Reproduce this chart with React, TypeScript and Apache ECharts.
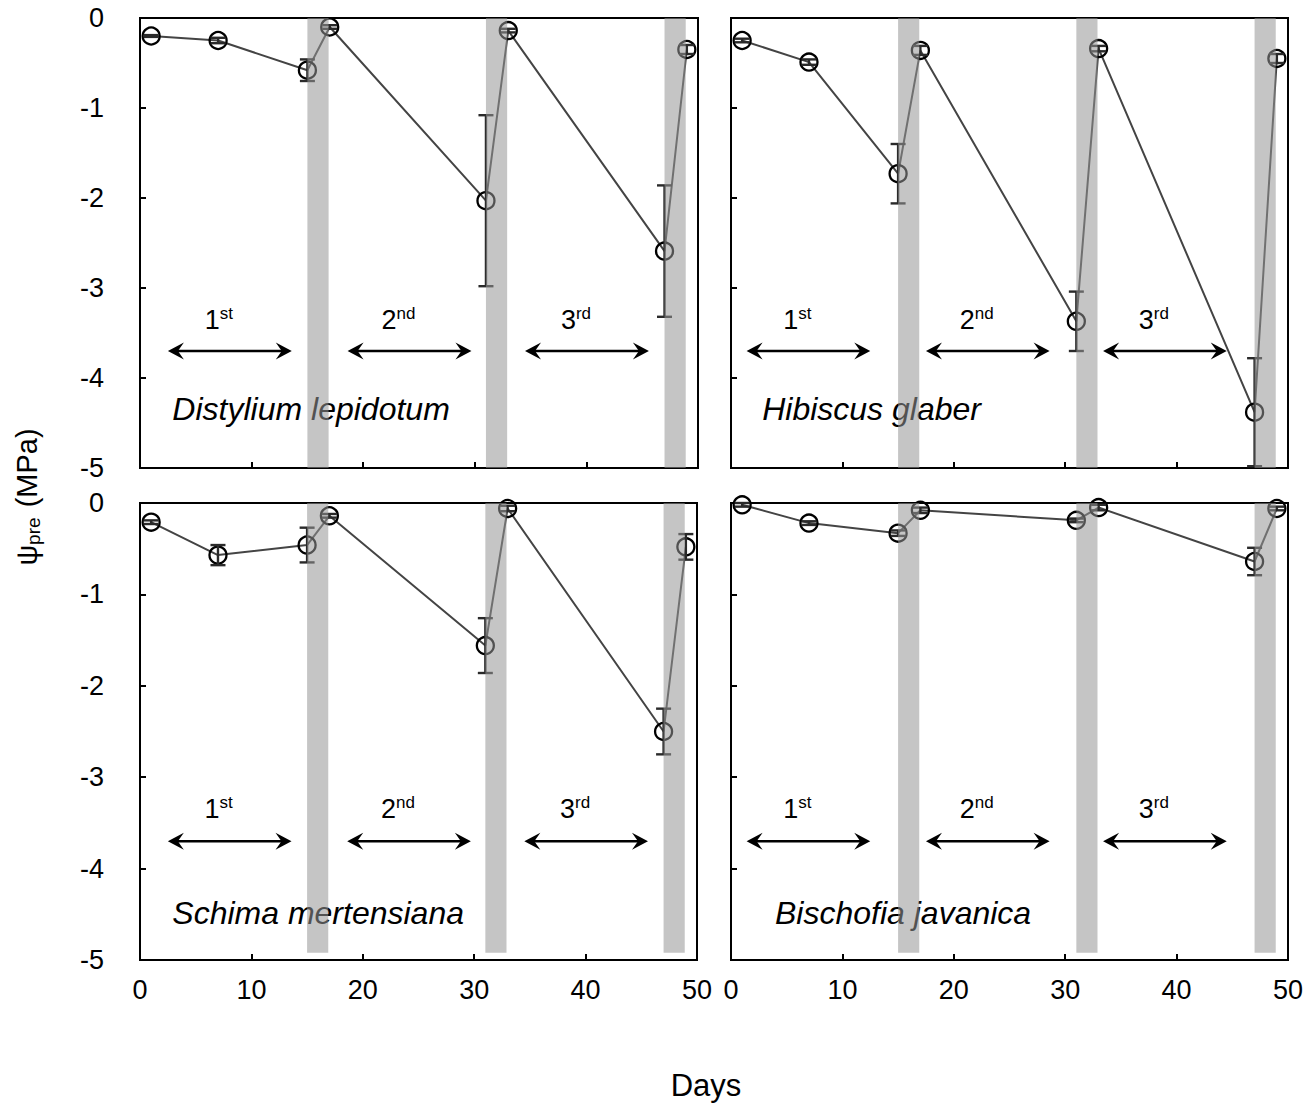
import React, { useEffect, useRef } from "react";
import * as echarts from "echarts";

const days = [1, 7, 15, 17, 31, 33, 47, 49];
const speciesNames = ["Distylium lepidotum", "Hibiscus glaber", "Schima mertensiana", "Bischofia javanica"];

const distyliumMean = [-0.2, -0.25, -0.58, -0.1, -2.03, -0.14, -2.59, -0.35];
const distyliumSE = [0.01, 0.03, 0.12, 0.02, 0.95, 0.02, 0.73, 0.05];
const hibiscusMean = [-0.25, -0.49, -1.73, -0.36, -3.37, -0.34, -4.38, -0.45];
const hibiscusSE = [0.02, 0.03, 0.33, 0.05, 0.33, 0.03, 0.6, 0.05];
const schimaMean = [-0.21, -0.57, -0.46, -0.14, -1.56, -0.06, -2.5, -0.48];
const schimaSE = [0.02, 0.11, 0.19, 0.02, 0.3, 0.03, 0.25, 0.14];
const bischofiaMean = [-0.02, -0.22, -0.33, -0.08, -0.19, -0.05, -0.64, -0.06];
const bischofiaSE = [0.02, 0.02, 0.03, 0.03, 0.02, 0.03, 0.15, 0.02];

const rewaterStart = [15, 31, 47];
const rewaterEnd = [16.9, 32.9, 48.9];

const periodNumber = ["1", "2", "3"];
const periodSuffix = ["st", "nd", "rd"];
const arrowStartLeft = [2.5, 18.6, 34.5];
const arrowEndLeft = [13.6, 29.7, 45.6];
const arrowStartRight = [1.4, 17.5, 33.4];
const arrowEndRight = [12.5, 28.6, 44.5];
const arrowLevel = -3.7;
const periodLabelLevel = -3.35;

const nameXs = [2.9, 2.8, 2.9, 3.95];
const nameYs = [-4.34, -4.34, -4.49, -4.49];

const FONT = "Liberation Sans";

export default function App() {
  const ref = useRef<HTMLDivElement>(null);
  useEffect(() => {
    document.body.style.margin = "0";
    const chart = echarts.init(ref.current!, null, { renderer: "svg" });

    const panels = [
      { mean: distyliumMean, se: distyliumSE, aS: arrowStartLeft, aE: arrowEndLeft, grid: { left: 140, top: 18, width: 558, height: 450 }, barBottom: -5, showX: false, showY: true },
      { mean: hibiscusMean, se: hibiscusSE, aS: arrowStartRight, aE: arrowEndRight, grid: { left: 731, top: 18, width: 557, height: 450 }, barBottom: -5, showX: false, showY: false },
      { mean: schimaMean, se: schimaSE, aS: arrowStartLeft, aE: arrowEndLeft, grid: { left: 140, top: 503, width: 557, height: 457 }, barBottom: -4.92, showX: true, showY: true },
      { mean: bischofiaMean, se: bischofiaSE, aS: arrowStartRight, aE: arrowEndRight, grid: { left: 731, top: 503, width: 557, height: 457 }, barBottom: -4.92, showX: true, showY: false },
    ];

    const grids = panels.map((p) => ({
      ...p.grid,
      show: true,
      borderColor: "#000",
      borderWidth: 2,
      backgroundColor: "transparent",
      containLabel: false,
    }));

    const tick = { show: true, inside: true, length: 6, lineStyle: { color: "#000", width: 2 } };

    const xAxes = panels.map((p, i) => ({
      type: "value",
      gridIndex: i,
      position: "bottom",
      min: 0,
      max: 50,
      interval: 10,
      axisLine: { show: false, onZero: false },
      axisTick: tick,
      splitLine: { show: false },
      axisLabel: { show: p.showX, color: "#000", fontSize: 27, fontFamily: FONT, margin: 16 },
    }));

    const yAxes = panels.map((p, i) => ({
      type: "value",
      gridIndex: i,
      position: "left",
      min: -5,
      max: 0,
      interval: 1,
      axisLine: { show: false, onZero: false },
      axisTick: tick,
      splitLine: { show: false },
      axisLabel: { show: p.showY, color: "#000", fontSize: 27, fontFamily: FONT, margin: 36 },
    }));

    const series: any[] = [];
    panels.forEach((p, i) => {
      series.push({
        type: "custom",
        xAxisIndex: i,
        yAxisIndex: i,
        z: 1,
        silent: true,
        clip: false,
        data: [[nameXs[i], nameYs[i]]],
        renderItem: (params: any, api: any) => {
          const pt = api.coord([api.value(0), api.value(1)]);
          return {
            type: "text",
            x: pt[0],
            y: pt[1],
            style: {
              text: speciesNames[i],
              fill: "#000",
              fontSize: 32,
              fontStyle: "italic",
              fontFamily: FONT,
              align: "left",
              verticalAlign: "middle",
            },
          };
        },
      });
      series.push({
        type: "custom",
        xAxisIndex: i,
        yAxisIndex: i,
        z: 1,
        silent: true,
        clip: false,
        data: p.aS.map((s, k) => [s, p.aE[k], arrowLevel]),
        renderItem: (params: any, api: any) => {
          const p1 = api.coord([api.value(0), api.value(2)]);
          const p2 = api.coord([api.value(1), api.value(2)]);
          const y = p1[1];
          return {
            type: "group",
            children: [
              { type: "line", shape: { x1: p1[0] + 6, y1: y, x2: p2[0] - 6, y2: y }, style: { stroke: "#000", lineWidth: 2.5 } },
              { type: "polygon", shape: { points: [[p1[0], y], [p1[0] + 16, y - 8.5], [p1[0] + 10, y], [p1[0] + 16, y + 8.5]] }, style: { fill: "#000" } },
              { type: "polygon", shape: { points: [[p2[0], y], [p2[0] - 16, y - 8.5], [p2[0] - 10, y], [p2[0] - 16, y + 8.5]] }, style: { fill: "#000" } },
            ],
          };
        },
      });
      series.push({
        type: "custom",
        xAxisIndex: i,
        yAxisIndex: i,
        z: 1,
        silent: true,
        clip: false,
        data: p.aS.map((s, k) => [(s + p.aE[k]) / 2, periodLabelLevel, k]),
        renderItem: (params: any, api: any) => {
          const pt = api.coord([api.value(0), api.value(1)]);
          const k = api.value(2);
          return {
            type: "text",
            x: pt[0] - 11,
            y: pt[1],
            style: {
              text: "{n|" + periodNumber[k] + "}{s|" + periodSuffix[k] + "}",
              fill: "#000",
              fontFamily: FONT,
              fontSize: 27,
              align: "center",
              verticalAlign: "middle",
              rich: {
                n: { fontSize: 27, lineHeight: 30, fontFamily: FONT, fill: "#000" },
                s: { fontSize: 17, lineHeight: 18, verticalAlign: "top", fontFamily: FONT, fill: "#000" },
              },
            },
          };
        },
      });
      series.push({
        type: "line",
        xAxisIndex: i,
        yAxisIndex: i,
        z: 3,
        clip: false,
        data: days.map((d, j) => [d, p.mean[j]]),
        lineStyle: { color: "#444", width: 2 },
        symbol: "circle",
        symbolSize: 17,
        showAllSymbol: true,
        itemStyle: { color: "rgba(0,0,0,0)", borderColor: "#000", borderWidth: 2.3 },
        emphasis: { disabled: true },
      });
      series.push({
        type: "custom",
        xAxisIndex: i,
        yAxisIndex: i,
        z: 4,
        silent: true,
        clip: false,
        data: days.map((d, j) => [d, p.mean[j] - p.se[j], Math.min(0, p.mean[j] + p.se[j])]),
        renderItem: (params: any, api: any) => {
          const lo = api.coord([api.value(0), api.value(1)]);
          const hi = api.coord([api.value(0), api.value(2)]);
          const x = lo[0];
          const hw = 7.5;
          const st = { stroke: "#2a2a2a", lineWidth: 2.4 };
          return {
            type: "group",
            children: [
              { type: "line", shape: { x1: x, y1: lo[1], x2: x, y2: hi[1] }, style: st },
              { type: "line", shape: { x1: x - hw, y1: lo[1], x2: x + hw, y2: lo[1] }, style: st },
              { type: "line", shape: { x1: x - hw, y1: hi[1], x2: x + hw, y2: hi[1] }, style: st },
            ],
          };
        },
      });
      series.push({
        type: "custom",
        xAxisIndex: i,
        yAxisIndex: i,
        z: 10,
        silent: true,
        clip: false,
        data: rewaterStart.map((s, k) => [s, rewaterEnd[k]]),
        renderItem: (params: any, api: any) => {
          const a = api.coord([api.value(0), 0]);
          const b = api.coord([api.value(1), p.barBottom]);
          return {
            type: "rect",
            shape: { x: a[0], y: a[1], width: b[0] - a[0], height: b[1] - a[1] },
            style: { fill: "rgba(150,150,150,0.55)" },
          };
        },
      });
    });

    chart.setOption({
      animation: false,
      backgroundColor: "#fff",
      grid: grids,
      xAxis: xAxes,
      yAxis: yAxes,
      series,
      graphic: [
        {
          type: "text",
          x: 27,
          y: 497,
          rotation: Math.PI / 2,
          style: {
            text: "{a|ψ}{b|pre}{a| (MPa)}",
            fill: "#000",
            fontFamily: FONT,
            fontSize: 29,
            align: "center",
            verticalAlign: "middle",
            rich: {
              a: { fontSize: 29, lineHeight: 32, fontFamily: FONT, fill: "#000" },
              b: { fontSize: 19, lineHeight: 20, verticalAlign: "bottom", fontFamily: FONT, fill: "#000", padding: [0, 2, 0, 0] },
            },
          },
        },
        {
          type: "text",
          x: 706,
          y: 1085,
          style: {
            text: "Days",
            fill: "#000",
            fontFamily: FONT,
            fontSize: 31,
            align: "center",
            verticalAlign: "middle",
          },
        },
      ],
    });
    return () => chart.dispose();
  }, []);
  return <div ref={ref} style={{ width: 1309, height: 1103 }} />;
}
